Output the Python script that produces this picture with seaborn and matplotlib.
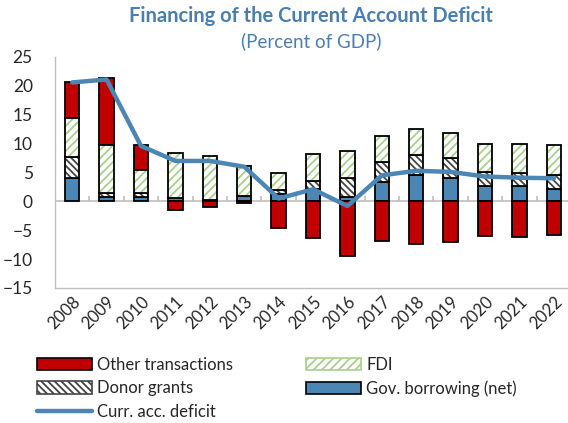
import numpy as np
import pandas as pd
import matplotlib
matplotlib.use("Agg")
import matplotlib.pyplot as plt
import matplotlib.patches as mpatches
from matplotlib.lines import Line2D
import seaborn as sns

years = [str(y) for y in range(2008, 2023)]
gov_borrowing = [4.0, 0.75, 0.7, 0.5, 0.2, 0.9, 1.3, 2.2, 0.7, 3.4, 4.5, 4.1, 2.7, 2.6, 2.2]
donor_grants = [3.6, 0.75, 0.8, 0.0, 0.0, 0.1, 0.6, 1.3, 3.4, 3.4, 3.6, 3.4, 2.3, 2.3, 2.3]
fdi = [6.9, 8.2, 4.0, 7.9, 7.7, 5.2, 3.0, 4.7, 4.6, 4.6, 4.4, 4.4, 5.0, 5.1, 5.2]
other = [6.2, 11.6, 4.2, -1.5, -1.0, -0.2, -4.6, -6.3, -9.5, -6.8, -7.4, -7.1, -6.0, -6.1, -5.9]
cad = [20.6, 21.1, 9.6, 7.0, 7.0, 6.0, 0.5, 2.1, -0.8, 4.5, 5.3, 5.1, 4.3, 4.1, 4.0]

RED = "#C00000"
BLUE = "#4C86B4"
GREEN = "#A9D08E"
TITLE_COL = "#4A7EB0"

sns.set_style("white")
plt.rcParams['font.family'] = ['Lato', 'DejaVu Sans']
plt.rcParams['hatch.linewidth'] = 1.3

df = pd.DataFrame({"year": years, "gov": gov_borrowing, "donor": donor_grants,
                   "fdi": fdi, "other": other, "cad": cad})
df["b_donor"] = df["gov"]
df["b_fdi"] = df["gov"] + df["donor"]
df["b_other"] = np.where(df["other"] > 0, df["gov"] + df["donor"] + df["fdi"], 0)

fig = plt.figure(figsize=(5.68, 4.23), dpi=100)
ax = fig.add_axes([55 / 568, 135 / 423, 513 / 568, 231 / 423])

W = 0.42
# plain filled layers
sns.barplot(data=df, x="year", y="gov", color=BLUE, width=W, errorbar=None,
            edgecolor="black", linewidth=1.3, saturation=1, ax=ax)
sns.barplot(data=df, x="year", y="other", bottom=df["b_other"], color=RED, width=W,
            errorbar=None, edgecolor="black", linewidth=1.3, saturation=1, ax=ax)
# hatched layers: hatch pass then outline pass
sns.barplot(data=df, x="year", y="donor", bottom=df["b_donor"], color="white", width=W,
            errorbar=None, hatch="\\\\\\\\\\", edgecolor="#444444", linewidth=0,
            saturation=1, ax=ax)
sns.barplot(data=df, x="year", y="donor", bottom=df["b_donor"], color="black", fill=False,
            width=W, errorbar=None, edgecolor="black", linewidth=1.3, ax=ax)
sns.barplot(data=df, x="year", y="fdi", bottom=df["b_fdi"], color="white", width=W,
            errorbar=None, hatch="////", edgecolor=GREEN, linewidth=0,
            saturation=1, ax=ax)
sns.barplot(data=df, x="year", y="fdi", bottom=df["b_fdi"], color="black", fill=False,
            width=W, errorbar=None, edgecolor="black", linewidth=1.3, ax=ax)

# zero line with category separators
n = len(years)
ax.axhline(0, color="#BFBFBF", lw=1.2, zorder=0.5)
ax.vlines(np.arange(n) + 0.5, 0, 1.0, color="#BFBFBF", lw=1.2, zorder=0.5)

sns.lineplot(x=np.arange(n), y=df["cad"], color=BLUE, lw=3.2, ax=ax, zorder=5)

ax.set_ylim(-15, 25)
ax.set_xlim(-0.5, 14.41)
ax.set_yticks(range(-15, 26, 5))
ax.set_xlabel("")
ax.set_ylabel("")
for s in ["top", "right"]:
    ax.spines[s].set_visible(False)
for s in ["left", "bottom"]:
    ax.spines[s].set_color("#BFBFBF")
    ax.spines[s].set_linewidth(1.0)
ax.tick_params(axis="y", length=0, pad=16, labelsize=12.5)
ax.tick_params(axis="x", length=0, pad=4, labelsize=12)
ax.set_xticks(np.arange(n))
ax.set_xticklabels(years, rotation=45, ha="right", rotation_mode="anchor")
for lab in ax.get_yticklabels():
    lab.set_horizontalalignment("right")

fig.text(0.548, 0.962, "Financing of the Current Account Deficit", ha="center",
         va="center", fontsize=14.5, fontweight="bold", color=TITLE_COL)
fig.text(0.548, 0.903, "(Percent of GDP)", ha="center", va="center",
         fontsize=13.5, color=TITLE_COL)

handles = [
    mpatches.Patch(facecolor=RED, edgecolor="black", lw=1.2, label="Other transactions"),
    mpatches.Patch(facecolor="white", edgecolor="#444444", hatch="\\\\\\\\\\", lw=1.2,
                   label="Donor grants"),
    Line2D([0], [0], color=BLUE, lw=3.2, label="Curr. acc. deficit"),
    mpatches.Patch(facecolor="white", edgecolor=GREEN, hatch="////", lw=1.2, label="FDI"),
    mpatches.Patch(facecolor=BLUE, edgecolor="black", lw=1.2, label="Gov. borrowing (net)"),
]
fig.legend(handles=handles, ncol=2, loc="upper left", bbox_to_anchor=(30 / 568, 1 - 350 / 423),
           frameon=False, fontsize=12, handlelength=3.3, handleheight=0.8,
           handletextpad=0.3, columnspacing=4.4, labelspacing=0.45, borderaxespad=0)

fig.savefig("out.png", dpi=100)
